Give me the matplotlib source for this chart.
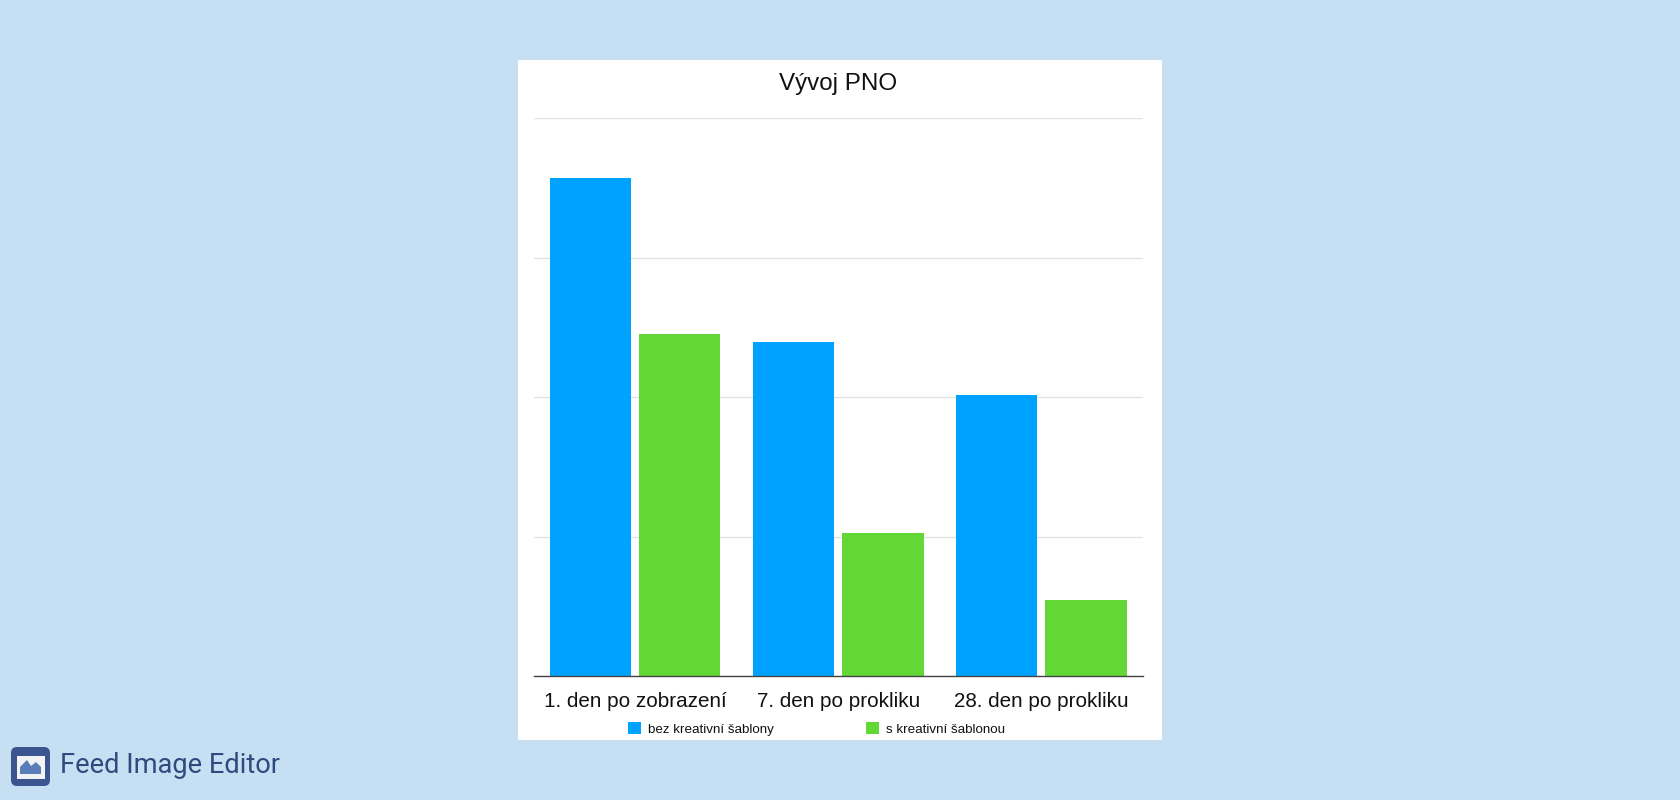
import matplotlib
matplotlib.use("Agg")
import matplotlib.pyplot as plt
import numpy as np
from matplotlib.patches import FancyBboxPatch, Rectangle, Polygon

# Values (no axis labels, scale 0-100 assumed)
categories = ["1. den po zobrazení", "7. den po prokliku", "28. den po prokliku"]
bez_sablony = [89.3, 59.8, 50.4]
s_sablonou = [61.3, 25.7, 13.6]
series_names = ["bez kreativní šablony", "s kreativní šablonou"]
title = "Vývoj PNO"
footer = "Feed Image Editor"

BG = "#c6dff2"
BLUE = "#00a2ff"
GREEN = "#61d836"
W, H = 1680, 800

fig = plt.figure(figsize=(W / 100, H / 100), dpi=100, facecolor=BG)

# Full figure layer in pixels for the white card and the logo
bg = fig.add_axes([0, 0, 1, 1])
bg.set_xlim(0, W)
bg.set_ylim(H, 0)
bg.axis("off")
bg.add_patch(Rectangle((518, 60), 644, 680, fc="white", ec="none"))

# Logo
bg.add_patch(FancyBboxPatch((15, 751), 31, 31, boxstyle="round,pad=4,rounding_size=6", fc="#3a5590", ec="none"))
bg.add_patch(Rectangle((17, 756), 28, 23, fc="#f2f3f5", ec="none"))
bg.add_patch(Polygon([(20, 774), (20, 767), (27, 760), (31, 766), (36, 762), (41, 767), (41, 774)], fc="#5a7db8", ec="none"))
bg.text(60.5, 773, footer, family="Roboto", fontsize=19.6, color="#2f4b7e", va="baseline", ha="left")

# Chart
left, right, top, bottom = 533.5, 1143, 118, 676
ax = fig.add_axes([left / W, 1 - bottom / H, (right - left) / W, (bottom - top) / H])
ax.patch.set_alpha(0)

x = np.arange(len(categories))
ax.bar(x - 0.22, bez_sablony, 0.4, color=BLUE, label=series_names[0], zorder=2)
ax.bar(x + 0.22, s_sablonou, 0.4, color=GREEN, label=series_names[1], zorder=2)

ax.set_xlim(-0.5, 2.5)
ax.set_ylim(0, 100)
ax.set_yticks([0, 25, 50, 75, 100])
ax.set_yticklabels([])
ax.yaxis.grid(True, color="#e3e3e3", linewidth=1)
ax.set_axisbelow(True)
ax.tick_params(axis="both", length=0)
for s in ["top", "left", "right"]:
    ax.spines[s].set_visible(False)
ax.spines["bottom"].set_color("#444444")
ax.spines["bottom"].set_linewidth(1)

ax.set_xticks(x)
ax.set_xticklabels(categories, family="Liberation Sans", fontsize=14.9, color="#111111")
ax.tick_params(axis="x", pad=11.5)

bg.text(838, 84, title, family="Liberation Sans", fontsize=17.4, color="#111111", ha="center", va="center")

leg = ax.legend(loc="center left", bbox_to_anchor=(628 / W, 1 - 729 / H), bbox_transform=fig.transFigure,
                ncol=2, frameon=False, prop={"family": "Liberation Sans", "size": 9.6},
                handlelength=1, handleheight=1, handletextpad=0.5, columnspacing=6.9,
                borderpad=0, borderaxespad=0, labelcolor="#111111")

fig.savefig("out.png", dpi=100, facecolor=BG)
